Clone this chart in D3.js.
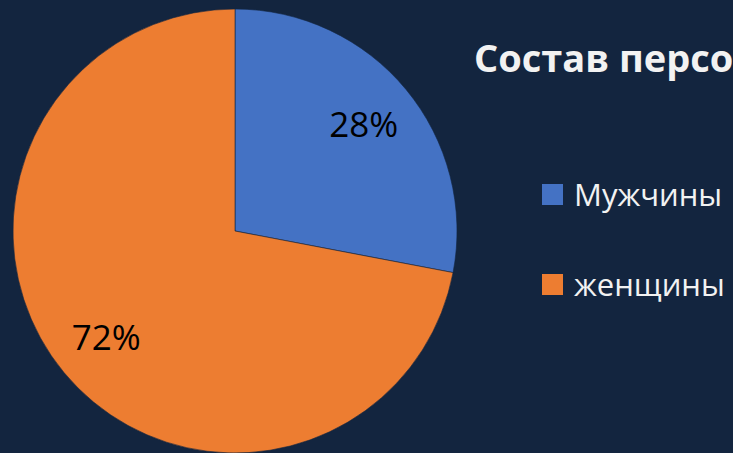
<!DOCTYPE html>
<html><head><meta charset="utf-8">
<script src="https://cdn.jsdelivr.net/npm/d3@7"></script>
<style>html,body{margin:0;padding:0;background:#13253f;overflow:hidden}</style>
</head><body>
<script>
const categories = ["Мужчины", "женщины"];
const values = [28, 72];
const labels = ["28%", "72%"];
const colors = ["#4472C4", "#ED7D31"];
const title = "Состав персонала";

const W = 733, H = 453;
const svg = d3.select("body").append("svg").attr("width", W).attr("height", H);
svg.append("rect").attr("width", W).attr("height", H).attr("fill", "#13253f");

const cx = 235, cy = 231, R = 222;
const pie = d3.pie().sort(null).value(d => d)(values);
const arc = d3.arc().innerRadius(0).outerRadius(R);
const labelArc = d3.arc().innerRadius(167).outerRadius(167);
const color = d3.scaleOrdinal().domain(categories).range(colors);

const g = svg.append("g").attr("transform", `translate(${cx},${cy})`);
g.selectAll("path").data(pie).join("path")
  .attr("d", arc)
  .attr("fill", (d, i) => color(categories[i]))
  .attr("stroke", "#13253f").attr("stroke-width", 0.6);

g.selectAll("text").data(pie).join("text")
  .attr("transform", d => `translate(${labelArc.centroid(d)})`)
  .attr("text-anchor", "middle").attr("dy", "0.36em")
  .attr("font-family", "Open Sans").attr("font-size", 35).attr("fill", "#000")
  .text((d, i) => labels[i]);

svg.append("text").attr("x", 474).attr("y", 72)
  .attr("font-family", "Open Sans").attr("font-weight", "bold").attr("font-size", 38)
  .attr("fill", "#f2f2f2").text(title);

const leg = svg.append("g");
const ly = d3.scalePoint().domain(categories).range([194, 284]);
categories.forEach(c => {
  leg.append("rect").attr("x", 542).attr("y", ly(c) - 10).attr("width", 21).attr("height", 21)
    .attr("fill", color(c));
  leg.append("text").attr("x", 574).attr("y", ly(c) + 12)
    .attr("font-family", "Open Sans").attr("font-size", 31).attr("fill", "#f2f2f2").text(c);
});
</script>
</body></html>
